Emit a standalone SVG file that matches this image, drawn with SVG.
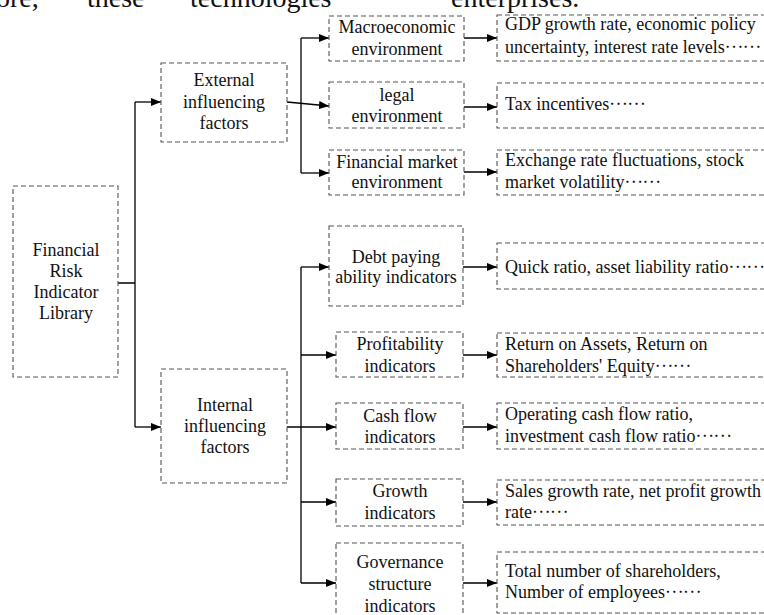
<svg xmlns="http://www.w3.org/2000/svg" width="764" height="615" viewBox="0 0 764 615">
<defs>
<marker id="ah" markerUnits="userSpaceOnUse" markerWidth="10" markerHeight="8" refX="10" refY="4" orient="auto">
<path d="M0,0 L10,4 L0,8 z" fill="#000"/>
</marker>
<style>
.box{fill:none;stroke:#555;stroke-width:1.1;stroke-dasharray:5 3}
.t{font-family:"Liberation Serif","Times New Roman",serif;font-size:18px;fill:#111}
.c{text-anchor:middle}
.d{font-family:"Noto Sans CJK SC",sans-serif;font-size:17px}
.ln{fill:none;stroke:#000;stroke-width:1.3}
.ar{fill:none;stroke:#000;stroke-width:1.3;marker-end:url(#ah)}
.top{font-family:"Liberation Serif","Times New Roman",serif;font-size:28px;fill:#111}
</style>
</defs>
<rect width="764" height="615" fill="#fff"/>
<g id="page-text">
<text class="top" x="-4" y="7">ore,</text>
<text class="top" x="87" y="7">these</text>
<text class="top" x="190" y="7">technologies</text>
<text class="top" x="451" y="7">enterprises.</text>
</g>
<g id="connectors">
<path class="ln" d="M118,283 H135 M135,102 V427"/>
<path class="ar" d="M135,102 H161"/>
<path class="ar" d="M135,427 H161"/>
<path class="ln" d="M301,38 V173"/>
<path class="ar" d="M301,38 H329"/>
<path class="ar" d="M287,102 L329,106"/>
<path class="ar" d="M301,173 H329"/>
<path class="ar" d="M464,38 H497"/>
<path class="ar" d="M464,107 H497"/>
<path class="ar" d="M464,172 H497"/>
<path class="ln" d="M301,267 V583"/>
<path class="ar" d="M301,267 H329"/>
<path class="ar" d="M301,355 H336"/>
<path class="ar" d="M287,427 H336"/>
<path class="ar" d="M301,502 H336"/>
<path class="ar" d="M301,583 H336"/>
<path class="ar" d="M463,267 H497"/>
<path class="ar" d="M463,355 H497"/>
<path class="ar" d="M463,427 H497"/>
<path class="ar" d="M463,502 H497"/>
<path class="ar" d="M463,583 H497"/>
</g>
<g id="library">
<rect class="box" x="13" y="186" width="105" height="191"/>
<text class="t c" x="66" y="256">Financial</text>
<text class="t c" x="66" y="277">Risk</text>
<text class="t c" x="66" y="298">Indicator</text>
<text class="t c" x="66" y="319">Library</text>
</g>
<g id="external">
<rect class="box" x="161" y="63" width="126" height="79"/>
<text class="t c" x="224" y="86">External</text>
<text class="t c" x="224" y="108">influencing</text>
<text class="t c" x="224" y="129">factors</text>
</g>
<g id="internal">
<rect class="box" x="161" y="369" width="126" height="114"/>
<text class="t c" x="225" y="411">Internal</text>
<text class="t c" x="225" y="432">influencing</text>
<text class="t c" x="225" y="453">factors</text>
</g>
<g id="macro">
<rect class="box" x="329" y="16" width="135" height="45"/>
<text class="t c" x="397" y="33">Macroeconomic</text>
<text class="t c" x="397" y="55">environment</text>
</g>
<g id="legal">
<rect class="box" x="329" y="82" width="135" height="46"/>
<text class="t c" x="397" y="101">legal</text>
<text class="t c" x="397" y="122">environment</text>
</g>
<g id="finmarket">
<rect class="box" x="329" y="150" width="135" height="45"/>
<text class="t c" x="397" y="168">Financial market</text>
<text class="t c" x="397" y="188">environment</text>
</g>
<g id="debt">
<rect class="box" x="329" y="226" width="134" height="80"/>
<text class="t c" x="396" y="263">Debt paying</text>
<text class="t c" x="396" y="283">ability indicators</text>
</g>
<g id="profit">
<rect class="box" x="336" y="332" width="127" height="45"/>
<text class="t c" x="400" y="350">Profitability</text>
<text class="t c" x="400" y="372">indicators</text>
</g>
<g id="cashflow">
<rect class="box" x="336" y="403" width="127" height="46"/>
<text class="t c" x="400" y="422">Cash flow</text>
<text class="t c" x="400" y="443">indicators</text>
</g>
<g id="growth">
<rect class="box" x="336" y="479" width="127" height="47"/>
<text class="t c" x="400" y="497">Growth</text>
<text class="t c" x="400" y="519">indicators</text>
</g>
<g id="governance">
<rect class="box" x="336" y="543" width="127" height="80"/>
<text class="t c" x="400" y="568">Governance</text>
<text class="t c" x="400" y="590">structure</text>
<text class="t c" x="400" y="612">indicators</text>
</g>
<g id="macro-detail">
<rect class="box" x="497" y="15" width="275" height="46"/>
<text class="t" x="505" y="30">GDP growth rate, economic policy</text>
<text class="t" x="505" y="53">uncertainty, interest rate levels<tspan class="d" dy="-5">……</tspan></text>
</g>
<g id="legal-detail">
<rect class="box" x="497" y="83" width="275" height="45"/>
<text class="t" x="505" y="110">Tax incentives<tspan class="d" dy="-5">……</tspan></text>
</g>
<g id="finmarket-detail">
<rect class="box" x="497" y="150" width="275" height="45"/>
<text class="t" x="505" y="166">Exchange rate fluctuations, stock</text>
<text class="t" x="505" y="188">market volatility<tspan class="d" dy="-5">……</tspan></text>
</g>
<g id="debt-detail">
<rect class="box" x="497" y="243" width="275" height="46"/>
<text class="t" x="505" y="273">Quick ratio, asset liability ratio<tspan class="d" dy="-5">……</tspan></text>
</g>
<g id="profit-detail">
<rect class="box" x="497" y="333" width="275" height="44"/>
<text class="t" x="505" y="350">Return on Assets, Return on</text>
<text class="t" x="505" y="372">Shareholders' Equity<tspan class="d" dy="-5">……</tspan></text>
</g>
<g id="cashflow-detail">
<rect class="box" x="497" y="403" width="275" height="46"/>
<text class="t" x="505" y="420">Operating cash flow ratio,</text>
<text class="t" x="505" y="442">investment cash flow ratio<tspan class="d" dy="-5">……</tspan></text>
</g>
<g id="growth-detail">
<rect class="box" x="497" y="480" width="275" height="45"/>
<text class="t" x="505" y="497">Sales growth rate, net profit growth</text>
<text class="t" x="505" y="518">rate<tspan class="d" dy="-5">……</tspan></text>
</g>
<g id="governance-detail">
<rect class="box" x="497" y="552" width="275" height="61"/>
<text class="t" x="505" y="577">Total number of shareholders,</text>
<text class="t" x="505" y="598">Number of employees<tspan class="d" dy="-5">……</tspan></text>
</g>
</svg>
